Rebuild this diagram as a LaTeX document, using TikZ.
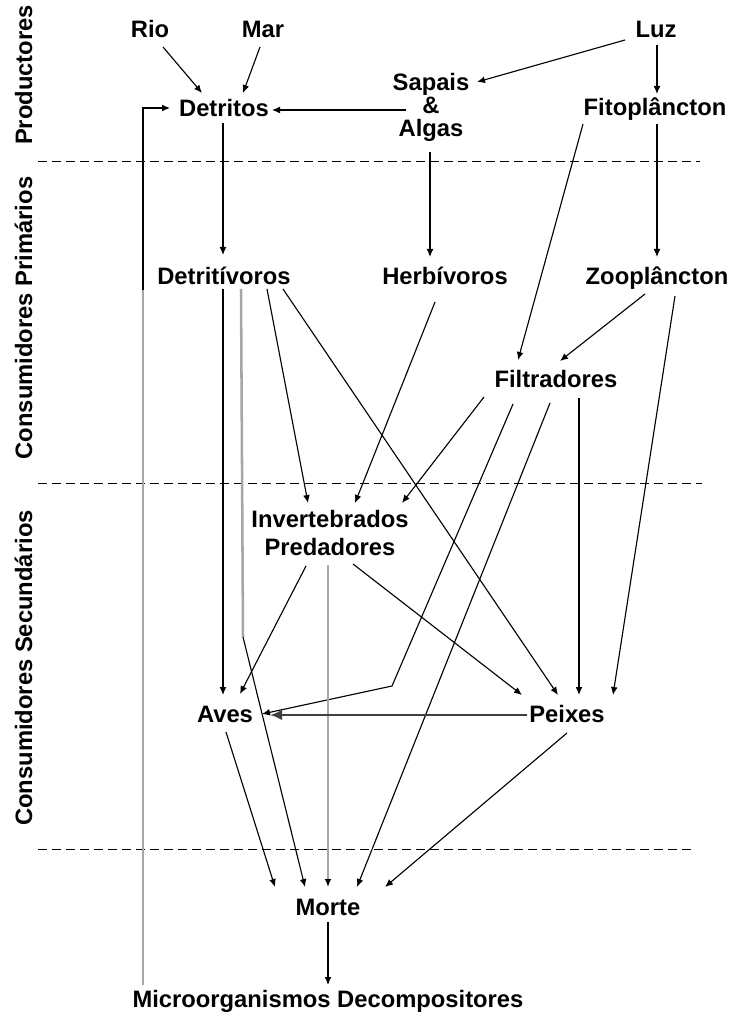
\documentclass[tikz,border=0pt]{standalone}
\usepackage{fontspec}
\setmainfont{Liberation Sans}
\usetikzlibrary{arrows.meta,calc}
\definecolor{linha-cinza}{gray}{.65}
\definecolor{seta-escura}{gray}{.25}

\begin{document}
\begin{tikzpicture}[x=0.025cm, y=-0.025cm, >={Latex[length=2mm,width=1.7mm]},
	  nome/.style={inner sep=0pt, anchor=base, font=\fontsize{16.9}{20}\selectfont\bfseries},
	  nivel/.style={nome, rotate=90},
	  lig/.style={->, line width=0.8pt},
	  cinza/.style={linha-cinza, line width=1.8pt},
	  seta/.style={seta-escura, line width=1.6pt, -{Latex[length=3mm,width=2.6mm]}},
	  sep/.style={line width=0.6pt, dash pattern=on 2.2mm off 1.3mm}]
	  \useasboundingbox (0,0) rectangle (730,1016);
	  % niveis troficos
	  \node[nivel] (prod) at (32,75) {Productores};
	  \node[nivel] (cprim) at (32,318) {Consumidores Primários};
	  \node[nivel] (csec) at (32,668) {Consumidores Secundários};
	  \draw[sep] (38,161) -- (700,161);
	  \draw[sep] (38,483) -- (702,483);
	  \draw[sep] (38,849) -- (695,849);
	  % nos
	  \node[nome] (rio) at (150,38) {Rio};
	  \node[nome] (mar) at (263,38) {Mar};
	  \node[nome] (luz) at (656,38) {Luz};
	  \node[nome] (sapais) at (431,91) {Sapais};
	  \node[nome] (e) at (431,114) {\&};
	  \node[nome] (algas) at (431,137) {Algas};
	  \node[nome] (detritos) at (224,117) {Detritos};
	  \node[nome] (fito) at (655,116) {Fitoplâncton};
	  \node[nome] (detritivoros) at (224,285) {Detritívoros};
	  \node[nome] (herbivoros) at (445,285) {Herbívoros};
	  \node[nome] (zoo) at (657,285) {Zooplâncton};
	  \node[nome] (filtr) at (556,387) {Filtradores};
	  \node[nome] (invert) at (330,527) {Invertebrados};
	  \node[nome] (pred) at (330,555) {Predadores};
	  \node[nome] (aves) at (225,722) {Aves};
	  \node[nome] (peixes) at (567,722) {Peixes};
	  \node[nome] (morte) at (328,915) {Morte};
	  \node[nome] (micro) at (328,1007) {Microorganismos Decompositores};
	  \coordinate (volta) at (143,290);
	  \coordinate (dobra) at (243,637);
	  \coordinate (quebra) at (392,686);
	  % produtores
	  \draw[lig] ($(rio.base)+(13,9)$) -- ($(detritos.base)+(-22,-24)$);
	  \draw[lig] ($(mar.base)+(-3,9)$) -- ($(detritos.base)+(19,-24)$);
	  \draw[lig] ($(luz.base)+(-31,2)$) -- ($(sapais.base)+(46,-9)$);
	  \draw[lig] ($(luz.base)+(1,7)$) -- ($(fito.base)+(2,-22)$);
	  \draw[lig] ($(e.base)+(-25,-4)$) -- ($(detritos.base)+(48,-7)$);
	  \draw[cinza] ($(micro.base)+(-185,-22)$) -- (volta);
	  \draw[lig] (volta) |- ($(detritos.base)+(-54,-9)$);
	  % consumidores primarios
	  \draw[lig] ($(detritos.base)+(-1,6)$) -- ($(detritivoros.base)+(-1,-30)$);
	  \draw[lig] ($(algas.base)+(-1,15)$) -- ($(herbivoros.base)+(-15,-28)$);
	  \draw[lig] ($(fito.base)+(2,8)$) -- ($(zoo.base)+(0,-28)$);
	  \draw[lig] ($(fito.base)+(-72,8)$) -- ($(filtr.base)+(-38,-27)$);
	  \draw[lig] ($(zoo.base)+(-12,9)$) -- ($(filtr.base)+(4,-26)$);
	  \draw[lig] ($(zoo.base)+(18,11)$) -- ($(peixes.base)+(46,-27)$);
	  \draw[lig] ($(detritivoros.base)+(-1,4)$) -- ($(aves.base)+(-2,-27)$);
	  \draw[cinza] ($(detritivoros.base)+(17,4)$) -- (dobra);
	  \draw[lig] (dobra) -- ($(morte.base)+(-23,-28)$);
	  \draw[lig] ($(detritivoros.base)+(43,4)$) -- ($(invert.base)+(-22,-24)$);
	  \draw[lig] ($(detritivoros.base)+(59,4)$) -- ($(peixes.base)+(-9,-27)$);
	  \draw[lig] ($(herbivoros.base)+(-10,17)$) -- ($(invert.base)+(25,-24)$);
	  \draw[lig] ($(filtr.base)+(-72,10)$) -- ($(invert.base)+(72,-24)$);
	  \draw[lig] ($(filtr.base)+(-43,17)$) -- (quebra) -- ($(aves.base)+(37,-8)$);
	  \draw[lig] ($(filtr.base)+(-6,16)$) -- ($(morte.base)+(29,-28)$);
	  \draw[lig] ($(filtr.base)+(23,11)$) -- ($(peixes.base)+(12,-27)$);
	  % consumidores secundarios
	  \draw[lig] ($(pred.base)+(-24,11)$) -- ($(aves.base)+(15,-28)$);
	  \draw[cinza, -{Latex[black,length=2mm,width=1.7mm]}] ($(pred.base)+(-2,10)$) -- ($(morte.base)+(0,-28)$);
	  \draw[lig] ($(pred.base)+(23,9)$) -- ($(peixes.base)+(-45,-27)$);
	  \draw[seta] ($(peixes.base)+(-40,-7)$) -- ($(aves.base)+(45,-7)$);
	  \draw[lig] ($(aves.base)+(1,10)$) -- ($(morte.base)+(-53,-28)$);
	  \draw[lig] ($(peixes.base)+(0,11)$) -- ($(morte.base)+(57,-28)$);
	  \draw[lig] ($(morte.base)+(0,7)$) -- ($(micro.base)+(0,-22)$);
	\end{tikzpicture}
\end{document}
